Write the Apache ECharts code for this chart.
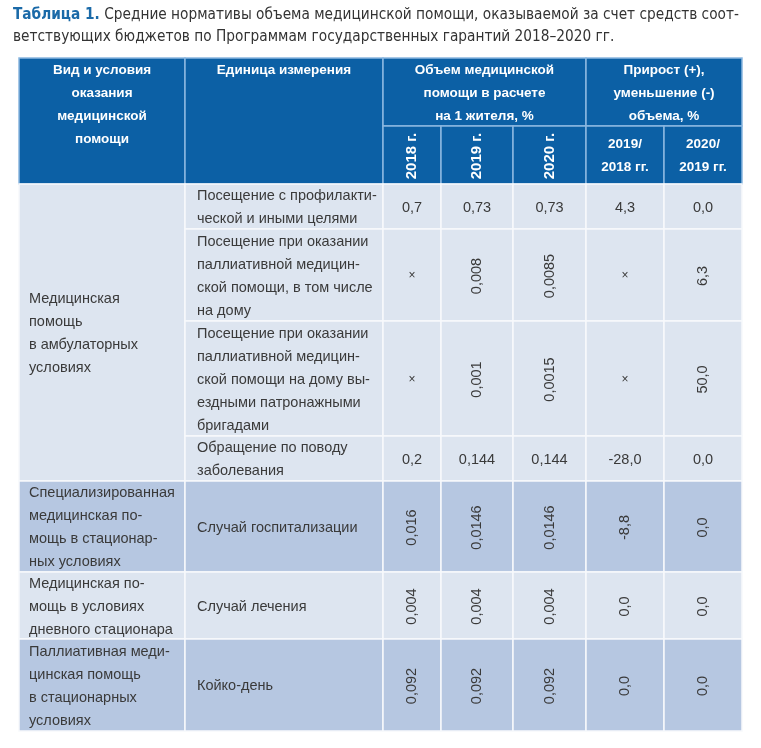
<!DOCTYPE html>
<html><head><meta charset="utf-8">
<script src="https://cdn.jsdelivr.net/npm/echarts@6/dist/echarts.min.js"></script>
<style>html,body{margin:0;padding:0;background:#fff}#c{width:761px;height:748px}</style>
</head><body><div id="c"></div>
<script>
// ---------- DATA ----------
const careTypes = [
  "Медицинская\nпомощь\nв амбулаторных\nусловиях",
  "Специализированная\nмедицинская по-\nмощь в стационар-\nных условиях",
  "Медицинская по-\nмощь в условиях\nдневного стационара",
  "Паллиативная меди-\nцинская помощь\nв стационарных\nусловиях"
];
const careRowCount = [4, 1, 1, 1];
const units = [
  "Посещение с профилакти-\nческой и иными целями",
  "Посещение при оказании\nпаллиативной медицин-\nской помощи, в том числе\nна дому",
  "Посещение при оказании\nпаллиативной медицин-\nской помощи на дому вы-\nездными патронажными\nбригадами",
  "Обращение по поводу\nзаболевания",
  "Случай госпитализации",
  "Случай лечения",
  "Койко-день"
];
const vol2018 = [0.7, null, null, 0.2, 0.016, 0.004, 0.092];
const vol2019 = [0.73, 0.008, 0.001, 0.144, 0.0146, 0.004, 0.092];
const vol2020 = [0.73, 0.0085, 0.0015, 0.144, 0.0146, 0.004, 0.092];
const chg2019vs2018 = [4.3, null, null, -28.0, -8.8, 0.0, 0.0];
const chg2020vs2019 = [0.0, 6.3, 50.0, 0.0, 0.0, 0.0, 0.0];
const headCareType = "Вид и условия\nоказания\nмедицинской\nпомощи";
const headUnit = "Единица измерения";
const headVolume = "Объем медицинской\nпомощи в расчете\nна 1 жителя, %";
const headChange = "Прирост (+),\nуменьшение (-)\nобъема, %";
const yearLabels = ["2018 г.", "2019 г.", "2020 г."];
const changeLabels = ["2019/\n2018 гг.", "2020/\n2019 гг."];
const titleBold = "Таблица 1.";
const titleLine1 = " Средние нормативы объема медицинской помощи, оказываемой за счет средств соот-";
const titleLine2 = "ветствующих бюджетов по Программам государственных гарантий 2018–2020 гг.";

// ---------- LAYOUT ----------
const colEdges = [0, 166, 364, 422, 494, 567, 645, 723];
const rowEdges = [0, 68, 126, 171, 263, 378, 423, 514, 581, 673];
const rotatedRows = [false, true, true, false, true, true, true];
const C_HEAD = '#0c60a5', C_LIGHT = '#dde5f0', C_DARK = '#b6c7e1';
const BODY_FONT = '"Liberation Sans", Arial, sans-serif';
const TITLE_FONT = '"Liberation Sans Narrow", "DejaVu Sans Condensed", "Liberation Sans", sans-serif';
const TITLE_WIDTH = 734;

// fit the title's first line to the reference width
const mctx = document.createElement('canvas').getContext('2d');
function lineWidthAt(size) {
  mctx.font = 'bold ' + size + 'px ' + TITLE_FONT;
  let w = mctx.measureText(titleBold).width;
  mctx.font = size + 'px ' + TITLE_FONT;
  return w + mctx.measureText(titleLine1).width;
}
let titleSize = 17;
while (titleSize > 10 && lineWidthAt(titleSize) > TITLE_WIDTH) titleSize -= 0.25;

const fmtVol = v => v === null ? '×' : String(v).replace('.', ',');
const fmtChg = v => v === null ? '×' : v.toFixed(1).replace('.', ',');

const cells = [];
function add(c0, c1, r0, r1, text, kind, opts) {
  cells.push(Object.assign({ value: [c0, c1, r0, r1], text, kind }, opts || {}));
}
// header
add(0, 1, 0, 2, headCareType, 'head', { pos: 'top' });
add(1, 2, 0, 2, headUnit, 'head', { pos: 'top' });
add(2, 5, 0, 1, headVolume, 'head', { pos: 'top' });
add(5, 7, 0, 1, headChange, 'head', { pos: 'top' });
yearLabels.forEach((t, i) => add(2 + i, 3 + i, 1, 2, t, 'head', { pos: 'center', rot: true, big: true }));
changeLabels.forEach((t, i) => add(5 + i, 6 + i, 1, 2, t, 'head', { pos: 'center' }));
// body
let r = 0;
careTypes.forEach((t, g) => {
  const n = careRowCount[g];
  add(0, 1, 2 + r, 2 + r + n, t, 'data', { pos: 'left', pad: 10, shade: g % 2 });
  for (let k = 0; k < n; k++) {
    const i = r + k;
    add(1, 2, 2 + i, 3 + i, units[i], 'data', { pos: 'left', pad: 12, shade: g % 2 });
    const vals = [fmtVol(vol2018[i]), fmtVol(vol2019[i]), fmtVol(vol2020[i]), fmtChg(chg2019vs2018[i]), fmtChg(chg2020vs2019[i])];
    vals.forEach((v, j) => add(2 + j, 3 + j, 2 + i, 3 + i, v, 'data',
      { pos: 'center', rot: rotatedRows[i] && v !== '×', shade: g % 2, small: v === '×' }));
  }
  r += n;
});

function renderItem(params, api) {
  const c = cells[params.dataIndex];
  const v = c.value;
  const p0 = api.coord([colEdges[v[0]], rowEdges[v[2]]]);
  const p1 = api.coord([colEdges[v[1]], rowEdges[v[3]]]);
  const x = p0[0], y = p0[1], w = p1[0] - p0[0], h = p1[1] - p0[1];
  const head = c.kind === 'head';
  const fill = head ? C_HEAD : (c.shade ? C_DARK : C_LIGHT);
  const stroke = head ? '#8ab6df' : '#f7f9fc';
  const font = head ? ('bold ' + (c.big ? '15px ' : '13.5px ') + BODY_FONT)
                    : ((c.small ? '12px ' : '14.5px ') + BODY_FONT);
  const color = head ? '#ffffff' : '#3a3a3a';
  let tx, ty, align = 'center', va = 'middle';
  if (c.pos === 'top') { tx = x + w / 2; ty = y + 1; va = 'top'; }
  else if (c.pos === 'left') { tx = x + c.pad; ty = y + h / 2 + 1; align = 'left'; }
  else { tx = x + w / 2; ty = y + h / 2 + 1; }
  return {
    type: 'group',
    children: [
      { type: 'rect', shape: { x, y, width: w, height: h },
        style: { fill, stroke, lineWidth: 1.5 } },
      { type: 'text', x: tx, y: ty, rotation: c.rot ? Math.PI / 2 : 0,
        style: { text: c.text, fill: color, font, align, verticalAlign: va, lineHeight: 23 } }
    ]
  };
}

const chart = echarts.init(document.getElementById('c'), null, { renderer: 'canvas' });
chart.setOption({
  animation: false,
  backgroundColor: '#ffffff',
  title: {
    left: 13, top: 4, padding: [0, 0, 0, 0],
    text: '{b|' + titleBold + '}{n|' + titleLine1 + '}\n{n|' + titleLine2 + '}',
    textStyle: {
      fontWeight: 'normal',
      rich: {
        b: { fontFamily: TITLE_FONT, fontWeight: 'bold', fontSize: titleSize, color: '#1b6aa8', lineHeight: 22 },
        n: { fontFamily: TITLE_FONT, fontWeight: 'normal', fontSize: titleSize, color: '#333333', lineHeight: 22 }
      }
    }
  },
  grid: { left: 19, top: 58, width: 723, height: 673, containLabel: false },
  xAxis: { type: 'value', min: 0, max: 723, show: false },
  yAxis: { type: 'value', min: 0, max: 673, inverse: true, show: false },
  series: [{
    type: 'custom',
    renderItem,
    data: cells.map(c => ({ value: c.value })),
    encode: { x: [0, 1], y: [2, 3] },
    silent: true
  }]
});
</script></body></html>
